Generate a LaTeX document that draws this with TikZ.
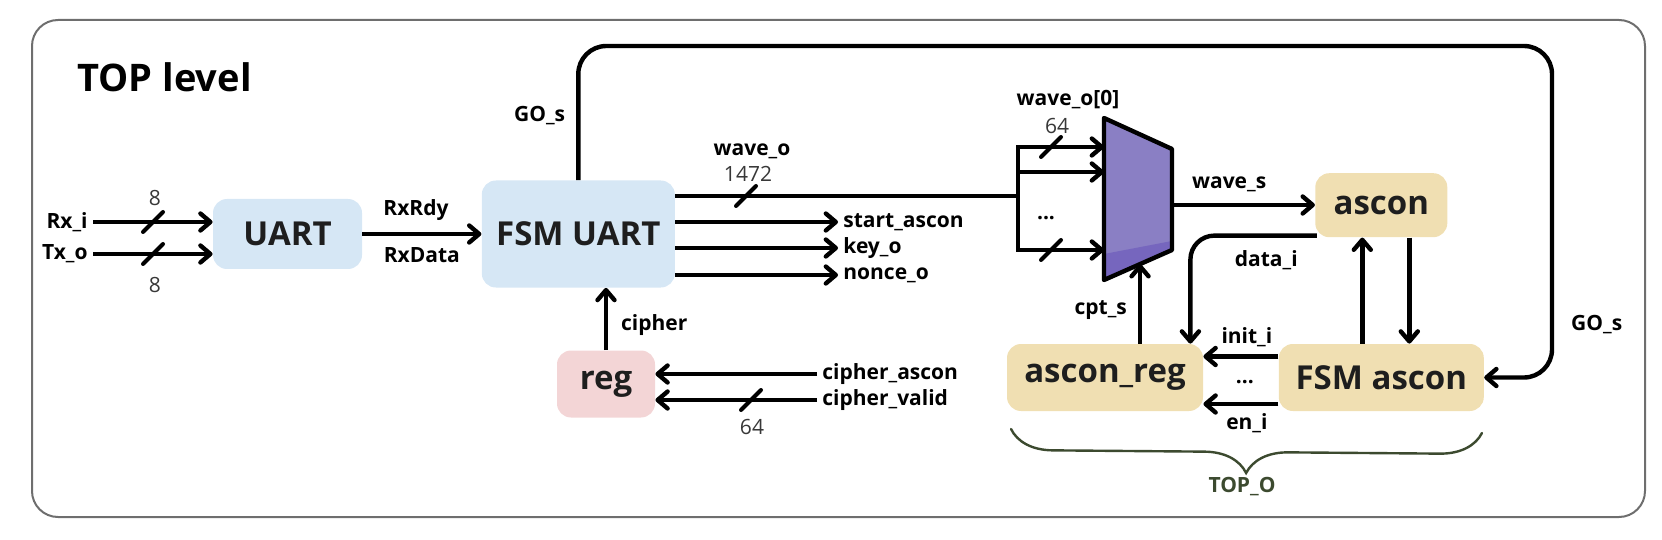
\documentclass[tikz,border=0pt]{standalone}
\usepackage{fontspec}
\setmainfont{Open Sans}
\usetikzlibrary{arrows.meta, positioning, calc, decorations.pathreplacing}
\definecolor{ublue}{HTML}{D6E7F5}
\definecolor{upink}{HTML}{F3D5D6}
\definecolor{utan}{HTML}{F0DFB2}
\definecolor{umux}{HTML}{8A7FC4}
\definecolor{umuxdk}{HTML}{7666BE}
\definecolor{uolive}{HTML}{3C4A2F}
\definecolor{uink}{HTML}{1E1E1E}
\definecolor{uframe}{HTML}{6E6E6E}

\begin{document}
\begin{tikzpicture}[
  x=0.5pt, y=-0.5pt,
  >={Straight Barb[length=5pt, width=8.5pt, round]},
  % every block is a filled, borderless rounded box with one big bold name
  block/.style = {rounded corners=7pt, align=center, inner sep=0pt,
                  font=\bfseries\fontsize{16.5}{19}\selectfont, text=uink},
  wire/.style  = {draw=black, line width=2.2pt},
  flow/.style  = {->, wire},
  slash/.style = {draw=black, line width=2pt, line cap=round},
  lbl/.style   = {font=\bfseries\fontsize{10.5}{12}\selectfont, inner sep=2.5pt},
  bits/.style  = {font=\fontsize{10.5}{12}\selectfont, text=black!78, inner sep=1pt},
]

% bus-width mark: #1 a named coordinate that sits on the wire
\newcommand{\busslash}[1]{%
  \draw[slash] ($(#1)+(-10,10)$) -- ($(#1)+(10,-10)$);%
}

\useasboundingbox (0,0) rectangle (1662,540);

% ================================================================ framing ===
\draw[draw=uframe, line width=1pt, rounded corners=13pt] (32,20) rectangle (1645,517);
\node[font=\bfseries\fontsize{19}{22}\selectfont, inner sep=0pt, anchor=base west]
     (title) at (77,92) {TOP level};

% ================================================================= blocks ===
\node[block, fill=ublue, minimum width=74.5pt, minimum height=35pt]
     (uart) at (287.5,234) {UART};
\node[block, fill=ublue, minimum width=96.5pt, minimum height=53.5pt,
      right=59.5pt of uart] (fsmuart) {FSM UART};
\node[block, fill=upink, minimum width=49pt, minimum height=33.5pt]
     (reg) at (606,384) {reg};
\node[block, fill=utan, minimum width=98pt, minimum height=33.5pt]
     (asconreg) at (1105,377.5) {ascon\_reg};
\node[block, fill=utan, minimum width=102.5pt, minimum height=33.5pt,
      right=37.5pt of asconreg] (fsmascon) {FSM ascon};
\node[block, fill=utan, minimum width=66pt, minimum height=32pt,
      above=53pt of fsmascon] (ascon) {ascon};

% the mux is a trapezoid, tall side facing the inputs
\coordinate (muxtl) at (1104,118);
\coordinate (muxtr) at (1172,149);
\coordinate (muxbr) at (1172,250);
\coordinate (muxbl) at (1104,280);
\fill[umux] (muxtl) -- (muxtr) -- (muxbr) -- (muxbl) -- cycle;
\fill[umuxdk] (1104,254) -- (1172,241) -- (muxbr) -- (muxbl) -- cycle;
\draw[line width=2.2pt, line join=round]
     (muxtl) -- (muxtr) -- (muxbr) -- (muxbl) -- cycle;
\coordinate (muxa) at (1104,147);
\coordinate (muxb) at (1104,172);
\coordinate (muxc) at (1104,250);
\coordinate (muxout) at (1172,205);
\coordinate (muxsel) at ($(muxbl)!0.53!(muxbr)$);

% ============================================================ UART side ===
\node[lbl, anchor=east] (rxi) at (93,222) {Rx\_i};
\node[lbl, anchor=east] (txo) at (93,254) {Tx\_o};
\draw[flow] (rxi) -- (rxi -| uart.west);
\draw[flow] (txo) -- (txo -| uart.west);
\coordinate (slrx) at (153,222);
\coordinate (sltx) at (153,254);
\busslash{slrx}
\busslash{sltx}
\node[bits] (rxbits) at (155,198) {8};
\node[bits] (txbits) at (155,285) {8};

\draw[flow] (uart) -- (fsmuart)
     node[lbl, pos=0.45, above=3pt] {RxRdy}
     node[lbl, midway, below=3pt] {RxData};

% FSM UART outputs
\node[lbl, anchor=west] (start) at (838,222) {start\_ascon};
\node[lbl, anchor=west] (key)   at (838,248) {key\_o};
\node[lbl, anchor=west] (nonce) at (838,275) {nonce\_o};
\draw[flow] (fsmuart.east |- start) -- (start);
\draw[flow] (fsmuart.east |- key)   -- (key);
\draw[flow] (fsmuart.east |- nonce) -- (nonce);

% wave_o bus, split over the mux inputs
\coordinate (busjoin) at (1018,196);
\draw[wire] (fsmuart.east |- busjoin) -- (busjoin);
\draw[flow] (busjoin) |- (muxa);
\draw[flow] (busjoin |- muxb) -- (muxb);
\draw[flow] (busjoin) |- (muxc);
\coordinate (slwave) at (746,196);
\coordinate (slmuxa) at (1051,147);
\coordinate (slmuxc) at (1051,250);
\busslash{slwave}
\busslash{slmuxa}
\busslash{slmuxc}
\node[bits] (wavebits) at (748,174) {1472};
\node[lbl] (waveo) at (752,151) {wave\_o};
\node[bits] (muxbits) at (1057,126) {64};
\node[lbl] (waveozero) at (1068,100) {wave\_o[0]};
\node[lbl] (muxdots) at (1046,218) {...};

% cipher path back to FSM UART
\draw[flow] (reg) -- (reg |- fsmuart.south)
     node[lbl, pos=0.4, right=4pt] {cipher};
\node[lbl, anchor=west] (cascon) at (817,374) {cipher\_ascon};
\node[lbl, anchor=west] (cvalid) at (817,400) {cipher\_valid};
\draw[flow] (cascon) -- (reg.east |- cascon);
\draw[flow] (cvalid) -- (reg.east |- cvalid);
\coordinate (slcipher) at (751,400);
\busslash{slcipher}
\node[bits] (cipherbits) at (752,427) {64};

% =========================================================== ascon side ===
\draw[flow] (muxout) -- (ascon.west |- muxout)
     node[lbl, pos=0.4, above=3pt] {wave\_s};
\draw[flow] (asconreg.north -| muxsel) -- (muxsel)
     node[lbl, pos=0.42, left=3pt] {cpt\_s};
\coordinate (datafrom) at ($(ascon.south west)+(2,-2)$);
\draw[flow, rounded corners=12pt] (datafrom)
     -| node[lbl, pos=0.2, below=4pt] {data\_i}
     ($(asconreg.north east)+(-13,0)$);
\draw[flow] ($(fsmascon.north)+(-19,0)$) -- ($(ascon.south)+(-19,0)$);
\draw[flow] ($(ascon.south)+(28,0)$) -- ($(fsmascon.north)+(28,0)$);
\draw[flow] ($(fsmascon.west)+(0,-21)$) -- ($(asconreg.east)+(0,-21)$)
     node[lbl, pos=0.42, above=1pt] {init\_i};
\draw[flow] ($(fsmascon.west)+(0,26.5)$) -- ($(asconreg.east)+(0,26.5)$)
     node[lbl, pos=0.42, below=1pt] {en\_i};
\node[lbl] (fsmdots) at ($(asconreg.east)!0.5!(fsmascon.west)+(4,5)$) {...};

% GO_s runs over the top, from FSM UART round to FSM ascon
\coordinate (gotop) at (1552,46);
\draw[flow, rounded corners=14pt] (fsmuart.north)
     |- node[lbl, pos=0.24, left=3pt] {GO\_s} (gotop)
     |- node[lbl, pos=0.42, right=6pt] {GO\_s} (fsmascon.east);

% the ascon pair is one sub-unit
\draw[draw=uolive, line width=1.2pt, line cap=round, decorate,
      decoration={brace, mirror, amplitude=21pt}] (1011,429) -- (1482,433);
\node[lbl, text=uolive] (topo) at (1242,487) {TOP\_O};

\end{tikzpicture}
\end{document}
